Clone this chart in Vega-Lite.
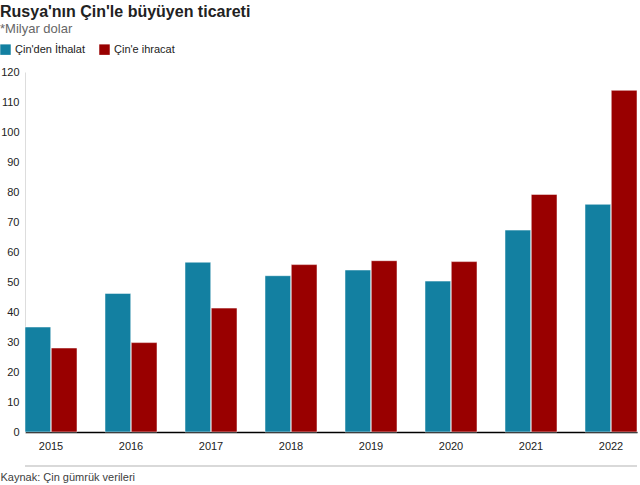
{
  "$schema": "https://vega.github.io/schema/vega-lite/v6.json",
  "autosize": "none",
  "width": 612,
  "height": 360,
  "padding": {"top": 72, "left": 25, "right": 3, "bottom": 53},
  "background": "white",
  "title": {
    "text": "Rusya'nın Çin'le büyüyen ticareti",
    "subtitle": "*Milyar dolar",
    "anchor": "start",
    "frame": "group",
    "dx": -25,
    "font": "Liberation Sans",
    "fontSize": 16,
    "fontWeight": "bold",
    "color": "#222222",
    "subtitleFont": "Liberation Sans",
    "subtitleFontSize": 13,
    "subtitleColor": "#666666",
    "subtitlePadding": 3,
    "offset": 8
  },
  "data": {
    "values": [
      {"year": "2015", "series": "Çin'den İthalat", "value": 35.0},
      {"year": "2015", "series": "Çin'e ihracat", "value": 28.0},
      {"year": "2016", "series": "Çin'den İthalat", "value": 46.2},
      {"year": "2016", "series": "Çin'e ihracat", "value": 29.8},
      {"year": "2017", "series": "Çin'den İthalat", "value": 56.6},
      {"year": "2017", "series": "Çin'e ihracat", "value": 41.3},
      {"year": "2018", "series": "Çin'den İthalat", "value": 52.1},
      {"year": "2018", "series": "Çin'e ihracat", "value": 55.8},
      {"year": "2019", "series": "Çin'den İthalat", "value": 54.0},
      {"year": "2019", "series": "Çin'e ihracat", "value": 57.1},
      {"year": "2020", "series": "Çin'den İthalat", "value": 50.3},
      {"year": "2020", "series": "Çin'e ihracat", "value": 56.8},
      {"year": "2021", "series": "Çin'den İthalat", "value": 67.3},
      {"year": "2021", "series": "Çin'e ihracat", "value": 79.2},
      {"year": "2022", "series": "Çin'den İthalat", "value": 75.9},
      {"year": "2022", "series": "Çin'e ihracat", "value": 113.9}
    ]
  },
  "config": {
    "view": {"stroke": null},
    "font": "Liberation Sans",
    "axisY": {
      "values": [0, 10, 20, 30, 40, 50, 60, 70, 80, 90, 100, 110, 120],
      "labelOverlap": false,
      "grid": false,
      "ticks": false,
      "domainColor": "#dddddd",
      "labelFontSize": 11,
      "labelColor": "#222222",
      "labelPadding": 6,
      "title": null
    }
  },
  "layer": [
    {
      "mark": {"type": "bar", "stroke": "#ffffff", "strokeWidth": 0.5},
      "encoding": {
        "x": {
          "field": "year",
          "type": "nominal",
          "scale": {"paddingInner": 0.35, "paddingOuter": 0},
          "axis": {
            "title": "Kaynak: Çin gümrük verileri",
            "titleAnchor": "start",
            "titleX": -25,
            "titleY": 39,
            "titleFont": "Liberation Sans",
            "titleFontSize": 11,
            "titleFontWeight": "normal",
            "titleColor": "#404040",
            "labelAngle": 0,
            "labelFontSize": 11,
            "labelColor": "#222222",
            "labelPadding": 8,
            "ticks": false,
            "domainColor": "#000000",
            "domainWidth": 1.5
          }
        },
        "xOffset": {"field": "series", "type": "nominal", "scale": {"paddingInner": 0.02}},
        "y": {
          "field": "value",
          "type": "quantitative",
          "scale": {"domain": [0, 120]},
          "axis": {
            "title": null,
            "values": [0, 10, 20, 30, 40, 50, 60, 70, 80, 90, 100, 110, 120],
            "labelOverlap": false
          }
        },
        "color": {
          "field": "series",
          "type": "nominal",
          "scale": {"domain": ["Çin'den İthalat", "Çin'e ihracat"], "range": ["#1380A1", "#990000"]},
          "legend": {
            "title": null,
            "orient": "none",
            "legendX": -25,
            "legendY": -28,
            "direction": "horizontal",
            "symbolType": "square",
            "symbolSize": 110,
            "symbolStrokeWidth": 0,
            "labelFontSize": 11,
            "labelColor": "#222222",
            "labelOffset": 4,
            "columnPadding": 14
          }
        }
      }
    },
    {
      "data": {"values": [{"v": -11.3}]},
      "mark": {"type": "rule", "color": "#cccccc", "strokeWidth": 1.5, "clip": false},
      "encoding": {"y": {"datum": -11.3, "type": "quantitative", "axis": {"title": null, "values": [0, 10, 20, 30, 40, 50, 60, 70, 80, 90, 100, 110, 120], "labelOverlap": false}}}
    }
  ]
}
